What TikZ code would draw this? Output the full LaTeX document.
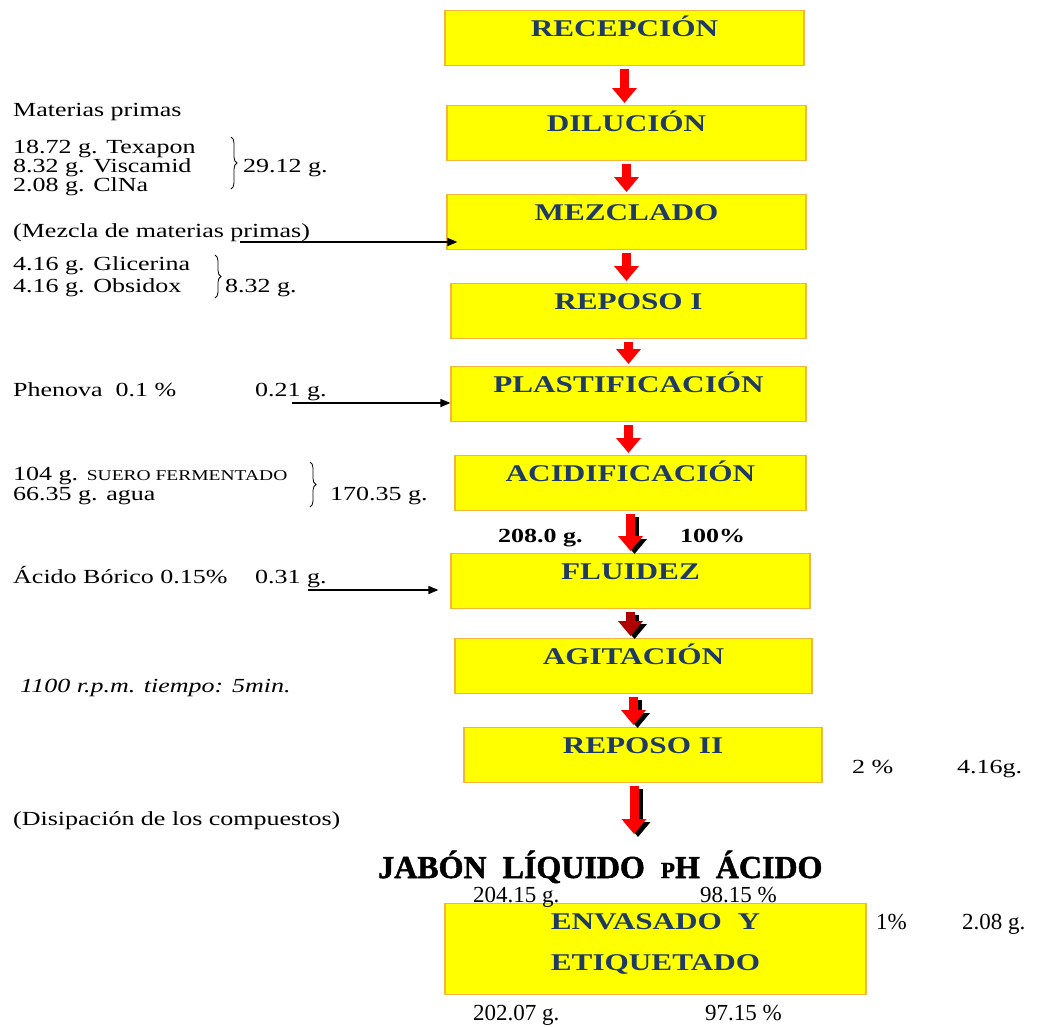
\documentclass[tikz,border=0pt]{standalone}
\usepackage{fontspec}
\setmainfont{Liberation Serif}[FakeStretch=1.3]
\newfontfamily\narrowfont{Liberation Serif}
\newfontfamily\titlefont{Liberation Serif}[FakeBold=1.5]
\usetikzlibrary{arrows.meta,decorations.pathreplacing}

\definecolor{cajafondo}{RGB}{255,255,0}
\definecolor{cajaborde}{RGB}{242,182,60}
\definecolor{cajatexto}{RGB}{31,58,100}
\definecolor{rojo}{RGB}{255,0,0}
\definecolor{rojooscuro}{RGB}{176,0,0}

\tikzset{
  stepbox/.style={draw=cajaborde, fill=cajafondo, line width=1.2pt, anchor=north,
    inner xsep=0pt, inner ysep=0pt, text height=26pt, text depth=29pt,
    font=\fontsize{24}{24}\selectfont\bfseries, text=cajatexto},
  txt/.style={anchor=base west, inner sep=0pt, font=\fontsize{20}{20}\selectfont},
  flecha/.style={line width=9pt, rojo, -{Triangle[length=15pt,width=24pt]},
    shorten <=3pt, shorten >=2pt},
  sombra/.style={flecha, black, transform canvas={xshift=4pt, yshift=-3pt}},
  entrada/.style={line width=1.5pt, -{Triangle[length=10pt,width=8pt]}},
  llave/.style={decorate, decoration={brace, amplitude=6pt}, line width=0.8pt}
}

\begin{document}
\begin{tikzpicture}[x=1pt, y=-1pt]
\useasboundingbox (0,0) rectangle (1056,1026);

% process steps
\node[stepbox, minimum width=359pt] (recep) at (624.5,10) {RECEPCIÓN};
\node[stepbox, minimum width=359pt] (dilu) at (626.5,105) {DILUCIÓN};
\node[stepbox, minimum width=359pt] (mezcl) at (626.5,194) {MEZCLADO};
\node[stepbox, minimum width=355pt] (rep1) at (628.5,283) {REPOSO I};
\node[stepbox, minimum width=355pt] (plast) at (628.5,366) {PLASTIFICACIÓN};
\node[stepbox, minimum width=351pt] (acid) at (630.5,455) {ACIDIFICACIÓN};
\node[stepbox, minimum width=359pt] (fluid) at (630.5,553) {FLUIDEZ};
\node[stepbox, minimum width=357pt] (agit) at (633.5,638) {AGITACIÓN};
\node[stepbox, minimum width=358pt] (rep2) at (643,727) {REPOSO II};
\node[stepbox, minimum width=421pt, align=center, text height=67pt, text depth=24pt,
  font=\fontsize{24}{41}\selectfont\bfseries] (env) at (655.5,903) {ENVASADO\ \ Y\\ETIQUETADO};

% red arrows between steps
\draw[flecha] (recep.south) -- (recep.south |- dilu.north);
\draw[flecha] (dilu.south) -- (dilu.south |- mezcl.north);
\draw[flecha] (mezcl.south) -- (mezcl.south |- rep1.north);
\draw[flecha] (rep1.south) -- (rep1.south |- plast.north);
\draw[flecha] (plast.south) -- (plast.south |- acid.north);
\draw[sombra] (acid.south) -- (acid.south |- fluid.north);
\draw[flecha] (acid.south) -- (acid.south |- fluid.north);
\draw[sombra] (fluid.south) -- (fluid.south |- agit.north);
\draw[flecha, rojooscuro] (fluid.south) -- (fluid.south |- agit.north);
\draw[sombra] (agit.south) -- (agit.south |- rep2.north);
\draw[flecha] (agit.south) -- (agit.south |- rep2.north);
\coordinate (finrep) at (634,836);
\draw[sombra] (rep2.south -| finrep) -- (finrep);
\draw[flecha] (rep2.south -| finrep) -- (finrep);

% raw materials
\node[txt] (matp) at (13,116) {Materias primas};
\node[txt] (texa) at (13,153) {18.72 g. Texapon};
\node[txt] (visc) at (13,172) {8.32 g. Viscamid};
\node[txt] (clna) at (13,191) {2.08 g. ClNa};
\draw[llave] (231,137) -- (231,189);
\node[txt] (suma1) at (243,172) {29.12 g.};
\node[txt] (mezp) at (13,237) {(Mezcla de materias primas)};
\coordinate (inMez) at (240,242);
\draw[entrada, shorten >=-11pt] (inMez) -- (inMez -| mezcl.west);
\node[txt] (glic) at (13,270) {4.16 g. Glicerina};
\node[txt] (obsi) at (13,292) {4.16 g. Obsidox};
\draw[llave] (215,255) -- (215,298);
\node[txt] (suma2) at (225,292) {8.32 g.};

\node[txt] (phen) at (13,396) {Phenova\ \ 0.1 \%};
\node[txt] (phg) at (255,396) {0.21 g.};
\coordinate (inPla) at (292,403);
\draw[entrada] (inPla) -- (inPla -| plast.west);

\node[txt] (suero) at (13,480) {104 g. {\fontsize{15}{15}\selectfont SUERO FERMENTADO}};
\node[txt] (agua) at (13,500) {66.35 g. agua};
\draw[llave] (310,462) -- (310,507);
\node[txt] (suma3) at (330,500) {170.35 g.};

\node[txt, font=\fontsize{20}{20}\selectfont\bfseries] (masa) at (498,542) {208.0 g.};
\node[txt, font=\fontsize{20}{20}\selectfont\bfseries] (cien) at (680,542) {100\%};

\node[txt] (bori) at (13,583) {Ácido Bórico 0.15\%};
\node[txt] (borg) at (255,583) {0.31 g.};
\coordinate (inFlu) at (308,590);
\draw[entrada, shorten >=12pt] (inFlu) -- (inFlu -| fluid.west);

\node[txt, font=\fontsize{20}{20}\selectfont\itshape] (rpm) at (20,692) {1100 r.p.m. tiempo: 5min.};
\node[txt] (disi) at (13,825) {(Disipación de los compuestos)};
\node[txt] (pc2) at (852,773) {2 \%};
\node[txt] (g416) at (957,773) {4.16g.};

% product
\node[txt, font=\fontsize{32}{32}\titlefont\bfseries] (jabon) at (378,878)
  {JABÓN\ \ LÍQUIDO\ \ {\fontsize{23}{23}\selectfont P}H\ \ ÁCIDO};
\node[txt, font=\fontsize{23}{23}\narrowfont] (m1) at (473,902) {204.15 g.};
\node[txt, font=\fontsize{23}{23}\narrowfont] (p1) at (700,902) {98.15 \%};
\node[txt, font=\fontsize{23}{23}\narrowfont] (pc1) at (876,929) {1\%};
\node[txt, font=\fontsize{23}{23}\narrowfont] (g208) at (962,929) {2.08 g.};
\node[txt, font=\fontsize{23}{23}\narrowfont] (m2) at (473,1020) {202.07 g.};
\node[txt, font=\fontsize{23}{23}\narrowfont] (p2) at (705,1020) {97.15 \%};
\end{tikzpicture}
\end{document}
